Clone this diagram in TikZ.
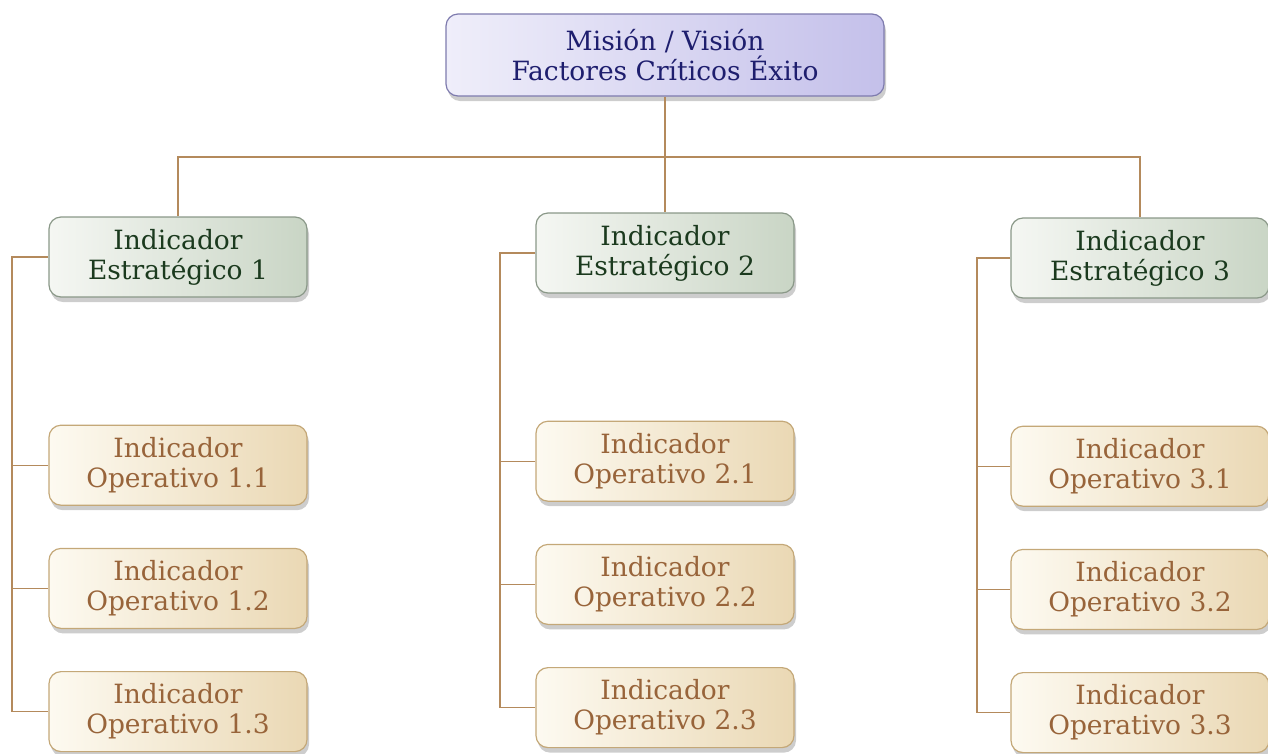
\documentclass[tikz,border=0pt]{standalone}
\usepackage{fontspec}
\setmainfont{DejaVu Serif}
\usepackage{tikz}
\usetikzlibrary{positioning,shadows}

\definecolor{linea}{HTML}{B48A5C}
\definecolor{misborde}{HTML}{7E7BAE}
\definecolor{misclaro}{HTML}{EFEEFA}
\definecolor{misoscuro}{HTML}{C4C0EA}
\definecolor{mistexto}{HTML}{1E1E6E}
\definecolor{estborde}{HTML}{8A9888}
\definecolor{estclaro}{HTML}{F5F7F3}
\definecolor{estoscuro}{HTML}{C9D5C5}
\definecolor{esttexto}{HTML}{1B3A1E}
\definecolor{opborde}{HTML}{C4A878}
\definecolor{opclaro}{HTML}{FDFAF1}
\definecolor{oposcuro}{HTML}{EAD8B4}
\definecolor{optexto}{HTML}{98643A}

\begin{document}
\begin{tikzpicture}[x=1pt, y=-1pt,
  every node/.style={rectangle, rounded corners=12pt, align=center,
    font=\fontsize{26.5}{30}\selectfont, line width=1.2pt,
    minimum width=258pt, minimum height=80pt, inner sep=4pt,
    drop shadow={shadow xshift=2pt, shadow yshift=-5pt, opacity=.28, fill=black!70}},
  node distance=42pt]
\tikzstyle{mision}=[draw=misborde, left color=misclaro, right color=misoscuro, text=mistexto,
  minimum width=438pt, minimum height=82pt]
\tikzstyle{estrat}=[draw=estborde, left color=estclaro, right color=estoscuro, text=esttexto]
\tikzstyle{operat}=[draw=opborde, left color=opclaro, right color=oposcuro, text=optexto]
\tikzstyle{conector}=[draw=linea, line width=1.2pt]

\useasboundingbox (0,0) rectangle (1268,753);

\node [mision] (mision) at (665,55) {Misión / Visión\\Factores Críticos Éxito};

\node [estrat] (est1) at (178,257) {Indicador\\Estratégico 1};
\node [estrat] (est2) at (665,253) {Indicador\\Estratégico 2};
\node [estrat] (est3) at (1140,258) {Indicador\\Estratégico 3};

\node [operat, below=127pt of est1] (op11) {Indicador\\Operativo 1.1};
\node [operat, below=of op11] (op12) {Indicador\\Operativo 1.2};
\node [operat, below=of op12] (op13) {Indicador\\Operativo 1.3};

\node [operat, below=127pt of est2] (op21) {Indicador\\Operativo 2.1};
\node [operat, below=of op21] (op22) {Indicador\\Operativo 2.2};
\node [operat, below=of op22] (op23) {Indicador\\Operativo 2.3};

\node [operat, below=127pt of est3] (op31) {Indicador\\Operativo 3.1};
\node [operat, below=of op31] (op32) {Indicador\\Operativo 3.2};
\node [operat, below=of op32] (op33) {Indicador\\Operativo 3.3};

% ramas superiores
\coordinate (barra) at (665,157);
\draw [conector] (mision.south) -- (est2.north);
\draw [conector] (est1.north) |- (barra) -| (est3.north);

% ramas laterales
\foreach \c/\x in {1/12, 2/500, 3/977} {
  \coordinate (eje\c) at (\x,0);
  \draw [conector] (est\c.west) -- (est\c.west -| eje\c) |- (op\c3.west);
  \draw [conector] (op\c1.west) -- (op\c1.west -| eje\c);
  \draw [conector] (op\c2.west) -- (op\c2.west -| eje\c);
}
\end{tikzpicture}
\end{document}
